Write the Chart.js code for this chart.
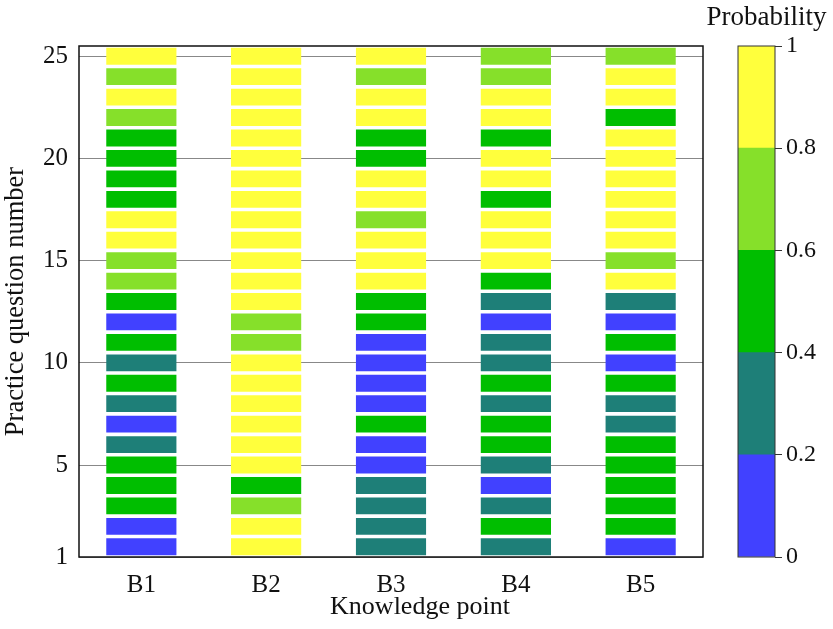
<!DOCTYPE html>
<html>
<head>
<meta charset="utf-8">
<script src="https://cdn.jsdelivr.net/npm/chart.js@4/dist/chart.umd.min.js"></script>
<style>
    html, body { margin: 0; padding: 0; background: #fff; }
    #wrap { position: relative; width: 833px; height: 629px; }
    #mainChart { position: absolute; left: 0; top: 0; }
    #barChart { position: absolute; left: 700px; top: 0; }
</style>
</head>
<body>
<div id="wrap">
    <canvas id="mainChart" width="710" height="629"></canvas>
    <canvas id="barChart" width="133" height="629"></canvas>
</div>
<script>
// Knowledge points (x categories)
const knowledgePoints = ['B1', 'B2', 'B3', 'B4', 'B5'];

// Probability class per question (question 1 -> 25), 0 = [0,0.2) ... 4 = [0.8,1]
const levelsB1 = [0,0,2,2,2,1,0,1,2,1,2,0,2,3,3,4,4,2,2,2,2,3,4,3,4];
const levelsB2 = [4,4,3,2,4,4,4,4,4,4,3,3,4,4,4,4,4,4,4,4,4,4,4,4,4];
const levelsB3 = [1,1,1,1,0,0,2,0,0,0,0,2,2,4,4,4,3,4,4,2,2,4,4,3,4];
const levelsB4 = [1,2,1,0,1,2,2,1,2,1,1,0,1,2,4,4,4,2,4,4,2,4,4,3,3];
const levelsB5 = [0,2,2,2,2,2,1,1,2,0,2,0,1,4,3,4,4,4,4,4,4,2,4,4,3];

// Question numbers and y tick labels
const questions = Array.from({ length: 25 }, (_, i) => i + 1);
const yTicks = [0.5, 5, 10, 15, 20, 25];

// Colour bar
const binEdges = [0, 0.2, 0.4, 0.6, 0.8, 1];
const binColors = ['#4141ff', '#1e7f78', '#00be00', '#86e02a', '#ffff3c'];

const FONT = "'Liberation Serif', 'Times New Roman', serif";

// Frame around the plot area
const framePlugin = {
    id: 'frame',
    afterDraw(chart, args, opts) {
        const { ctx, chartArea: a } = chart;
        ctx.save();
        ctx.strokeStyle = opts.color || '#000';
        ctx.lineWidth = opts.width || 1.5;
        ctx.strokeRect(a.left, a.top, a.right - a.left, a.bottom - a.top);
        ctx.restore();
    }
};

// x axis title, centred under the whole figure rather than the plot area
const xTitlePlugin = {
    id: 'xTitle',
    afterDraw(chart, args, opts) {
        const { ctx, chartArea: a } = chart;
        ctx.save();
        ctx.fillStyle = '#111';
        ctx.font = `26px ${FONT}`;
        ctx.textAlign = 'center';
        ctx.textBaseline = 'middle';
        ctx.fillText(opts.text, (a.left + a.right) / 2 + opts.shift, chart.height - 22);
        ctx.restore();
    }
};

function createMainChart() {
    const ctx = document.getElementById('mainChart').getContext('2d');
    const allLevels = [levelsB1, levelsB2, levelsB3, levelsB4, levelsB5];

    const datasets = questions.map((q, i) => ({
        label: 'Q' + q,
        data: knowledgePoints.map(() => [q - 0.5, q + 0.5]),
        backgroundColor: allLevels.map(lv => binColors[lv[i]]),
        borderColor: '#fff',
        borderWidth: { top: 1.8, bottom: 1.8, left: 0, right: 0 },
        borderSkipped: false,
        grouped: false,
        barPercentage: 0.565,
        categoryPercentage: 1
    }));

    new Chart(ctx, {
        type: 'bar',
        data: { labels: knowledgePoints, datasets },
        options: {
            responsive: false,
            animation: false,
            layout: { padding: { top: 46, right: 7, left: 0, bottom: 0 } },
            plugins: {
                legend: { display: false },
                tooltip: { enabled: false },
                frame: { color: '#111', width: 1.5 },
                xTitle: { text: 'Knowledge point', shift: 29 }
            },
            scales: {
                x: {
                    grid: { display: false },
                    border: { display: false },
                    ticks: { color: '#111', font: { family: FONT, size: 25 }, padding: 5 },
                    afterFit: s => { s.height = 72; }
                },
                y: {
                    min: 0.5,
                    max: 25.5,
                    afterBuildTicks: s => { s.ticks = yTicks.map(v => ({ value: v })); },
                    grid: { color: '#888', lineWidth: 1, drawTicks: false },
                    border: { display: false },
                    ticks: {
                        color: '#111',
                        font: { family: FONT, size: 25 },
                        padding: 11,
                        callback: v => (v === 0.5 ? '1' : String(v))
                    },
                    title: {
                        display: true,
                        text: 'Practice question number',
                        color: '#111',
                        font: { family: FONT, size: 26.5 },
                        padding: { top: 0, bottom: 2 }
                    },
                    afterFit: s => { s.width = 79; }
                }
            }
        },
        plugins: [framePlugin, xTitlePlugin]
    });
}

function createColorBar() {
    const ctx = document.getElementById('barChart').getContext('2d');

    const datasets = binColors.map((c, i) => ({
        data: [[binEdges[i], binEdges[i + 1]]],
        backgroundColor: c,
        borderWidth: 0,
        grouped: false,
        barPercentage: 1,
        categoryPercentage: 1
    }));

    new Chart(ctx, {
        type: 'bar',
        data: { labels: [''], datasets },
        options: {
            responsive: false,
            animation: false,
            layout: { padding: { left: 0, right: 0, top: 0, bottom: 72 } },
            plugins: {
                legend: { display: false },
                tooltip: { enabled: false },
                title: {
                    display: true,
                    text: 'Probability',
                    color: '#111',
                    font: { family: FONT, size: 27, weight: 'normal' },
                    padding: { top: 2, bottom: 11.6 }
                },
                frame: { color: '#333', width: 1 }
            },
            scales: {
                x: { display: false },
                y: {
                    position: 'right',
                    min: 0,
                    max: 1,
                    afterBuildTicks: s => { s.ticks = binEdges.map(v => ({ value: v })); },
                    grid: { drawOnChartArea: false, color: '#333', tickLength: 7 },
                    border: { display: false },
                    ticks: {
                        color: '#111',
                        font: { family: FONT, size: 24 },
                        padding: 4,
                        callback: v => String(v)
                    },
                    afterFit: s => { s.width = 58; }
                },
                // empty spacer on the left so the bar sits at the right place
                yl: {
                    position: 'left',
                    grid: { display: false },
                    border: { display: false },
                    ticks: { display: false },
                    afterFit: s => { s.width = 38; }
                }
            }
        },
        plugins: [framePlugin]
    });
}

document.addEventListener('DOMContentLoaded', () => {
    createMainChart();
    createColorBar();
});
</script>
</body>
</html>
